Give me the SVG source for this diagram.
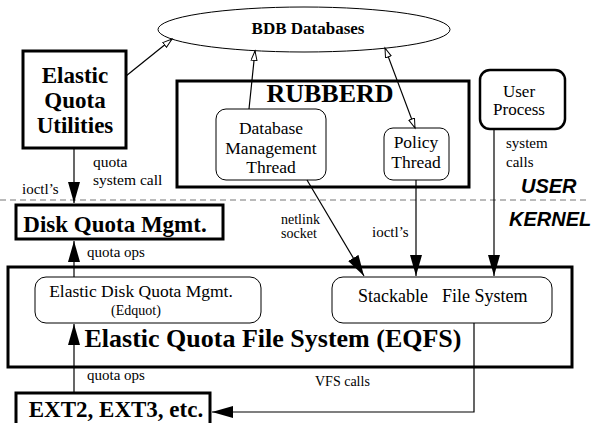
<svg xmlns="http://www.w3.org/2000/svg" width="597" height="423" viewBox="0 0 597 423">
<style>
.s{font-family:"Liberation Serif","Times New Roman",serif;fill:#000}
.b{font-weight:bold}
.h{font-family:"Liberation Sans",Arial,sans-serif;font-weight:bold;font-style:italic;font-size:20px}
.thick{fill:#fff;stroke:#000;stroke-width:3}
.thin{fill:#fff;stroke:#000;stroke-width:1}
.ln{fill:none;stroke:#000;stroke-width:1.2}
</style>
<defs>
<marker id="fa" markerUnits="userSpaceOnUse" markerWidth="22" markerHeight="14" refX="21" refY="6.5" orient="auto" viewBox="0 0 22 14">
<path d="M0,0.5 L21,6.5 L0,12.5 Z" fill="#000"/>
</marker>
<marker id="ha" markerUnits="userSpaceOnUse" markerWidth="12" markerHeight="8" refX="10" refY="3.5" orient="auto-start-reverse" viewBox="0 0 12 8">
<path d="M0.5,0.5 L10,3.5 L0.5,6.5 Z" fill="#fff" stroke="#000" stroke-width="1"/>
</marker>
</defs>
<rect x="0" y="0" width="597" height="423" fill="#fff"/>

<line x1="0" y1="200" x2="590" y2="200" stroke="#777" stroke-width="1.2" stroke-dasharray="6,4"/>

<g id="bdb">
<ellipse cx="304" cy="29.5" rx="146" ry="22.5" class="thin"/>
<text x="308" y="34" class="s b" font-size="17" text-anchor="middle">BDB Databases</text>
</g>

<g id="equ">
<rect x="23" y="51" width="103" height="97" class="thick"/>
<text class="s b" font-size="23" text-anchor="middle"><tspan x="75" y="83">Elastic</tspan><tspan x="75" y="108">Quota</tspan><tspan x="75" y="133">Utilities</tspan></text>
</g>

<g id="rubberd">
<rect x="177" y="81" width="292" height="106" class="thick"/>
<text x="330" y="102" class="s b" font-size="26" text-anchor="middle">RUBBERD</text>
</g>

<g id="dmt">
<rect x="216" y="109" width="110" height="71" rx="10" class="thin"/>
<text class="s" font-size="17.5" text-anchor="middle"><tspan x="271" y="134">Database</tspan><tspan x="271" y="154">Management</tspan><tspan x="271" y="173">Thread</tspan></text>
</g>

<g id="policy">
<rect x="384" y="128" width="65" height="52" rx="9" class="thin"/>
<text class="s" font-size="17.5" text-anchor="middle"><tspan x="416" y="148">Policy</tspan><tspan x="416" y="168">Thread</tspan></text>
</g>

<g id="userproc">
<rect x="480" y="70" width="85" height="59" rx="10" fill="#fff" stroke="#000" stroke-width="2.5"/>
<text class="s" font-size="17" text-anchor="middle"><tspan x="519" y="96.5">User</tspan><tspan x="519" y="115">Process</tspan></text>
</g>

<g id="diskquota">
<rect x="16" y="205" width="207" height="34" class="thick"/>
<text x="115" y="232" class="s b" font-size="23" text-anchor="middle">Disk Quota Mgmt.</text>
</g>

<g id="eqfs">
<rect x="8" y="267" width="564" height="100" class="thick"/>
<text x="273" y="347" class="s b" font-size="26" text-anchor="middle">Elastic Quota File System (EQFS)</text>
</g>

<g id="edquot">
<rect x="35" y="277" width="226" height="46" rx="11" class="thin"/>
<text x="141" y="297" class="s" font-size="17.5" text-anchor="middle">Elastic Disk Quota Mgmt.</text>
<text x="136" y="315" class="s" font-size="14" text-anchor="middle">(Edquot)</text>
</g>

<g id="stackable">
<rect x="332" y="277" width="220" height="46" rx="11" class="thin"/>
<text y="302" class="s" font-size="18"><tspan x="358">Stackable</tspan><tspan x="442">File System</tspan></text>
</g>

<g id="ext">
<rect x="16" y="393" width="194" height="34" class="thick"/>
<text x="116" y="417" class="s b" font-size="23" text-anchor="middle">EXT2, EXT3, etc.</text>
</g>

<g id="labels">
<text class="s" font-size="15.5"><tspan x="93" y="167">quota</tspan><tspan x="93" y="185">system call</tspan></text>
<text x="22" y="194" class="s" font-size="15">ioctl’s</text>
<text class="s" font-size="15"><tspan x="506" y="148">system</tspan><tspan x="506" y="167">calls</tspan></text>
<text class="s" font-size="14"><tspan x="281" y="224">netlink</tspan><tspan x="281" y="238">socket</tspan></text>
<text x="372" y="237" class="s" font-size="15">ioctl’s</text>
<text x="87" y="257" class="s" font-size="15">quota ops</text>
<text x="87" y="380" class="s" font-size="15">quota ops</text>
<text x="315" y="386" class="s" font-size="14">VFS calls</text>
<text x="521" y="193" class="h">USER</text>
<text x="509" y="226" class="h">KERNEL</text>
</g>

<g id="connectors">
<line x1="126" y1="76" x2="172" y2="39" class="ln" marker-end="url(#ha)"/>
<line x1="249" y1="109" x2="255" y2="51" class="ln" marker-end="url(#ha)"/>
<line x1="385" y1="48" x2="415" y2="128" class="ln" marker-start="url(#ha)" marker-end="url(#ha)"/>
<line x1="74" y1="148" x2="74" y2="203" class="ln" marker-end="url(#fa)"/>
<line x1="74" y1="277" x2="74" y2="241" class="ln" marker-end="url(#fa)"/>
<line x1="74" y1="393" x2="74" y2="324" class="ln" marker-end="url(#fa)"/>
<line x1="307" y1="180" x2="364" y2="276" class="ln" marker-end="url(#fa)"/>
<line x1="416" y1="180" x2="416" y2="276" class="ln" marker-end="url(#fa)"/>
<line x1="494" y1="129" x2="494" y2="276" class="ln" marker-end="url(#fa)"/>
<polyline points="474,323 474,412 212,412" class="ln" marker-end="url(#fa)"/>
</g>
</svg>
